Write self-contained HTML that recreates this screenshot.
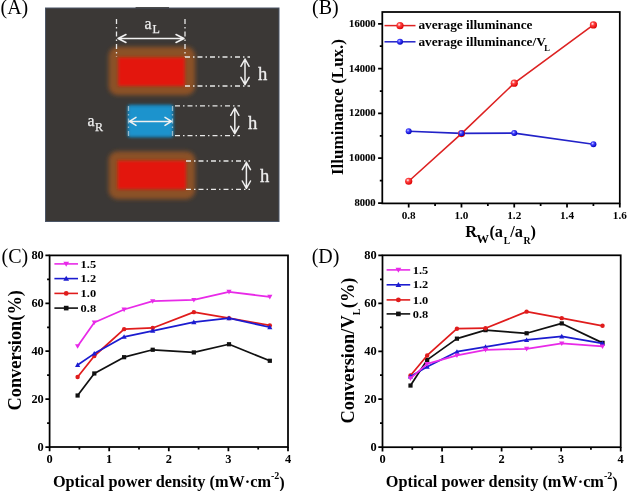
<!DOCTYPE html>
<html><head><meta charset="utf-8"><style>
body{margin:0;background:#fff;width:627px;height:491px;overflow:hidden}
svg{display:block;filter:blur(0.3px)}
text{font-family:"Liberation Serif",serif;fill:#000}
.lab{font-size:20px}
.wa{font-size:15.8px;fill:#eeeeee;stroke:#eeeeee;stroke-width:0.25px}
.ws{font-size:12px;fill:#eeeeee;stroke:#eeeeee;stroke-width:0.25px}
.wh{font-size:18.6px;fill:#eeeeee;stroke:#eeeeee;stroke-width:0.3px}
.tb{font-size:10.6px;font-weight:bold;stroke:#000;stroke-width:0.12px}
.tbx{font-size:11.2px;font-weight:bold}
.tc{font-size:12.4px;font-weight:bold}
.lg{font-size:13.3px;font-weight:bold}
.lgs{font-size:8.5px;font-weight:bold}
.lc{font-size:10.7px;font-weight:bold}
.yl{font-size:17px;font-weight:bold}
.ylc{font-size:18.4px;font-weight:bold}
.ylcs{font-size:9.8px}
.xl{font-size:16.3px;font-weight:bold}
.xls{font-size:11px;font-weight:bold}
.sup{font-size:10px}
</style></head>
<body><svg width="627" height="491" viewBox="0 0 627 491"><defs>
<filter id="bl" x="-30%" y="-30%" width="160%" height="160%"><feGaussianBlur stdDeviation="1.8"/></filter>
<filter id="bl3" x="-10%" y="-10%" width="120%" height="120%"><feGaussianBlur stdDeviation="1.5"/></filter>
<filter id="bl4" x="-30%" y="-30%" width="160%" height="160%"><feGaussianBlur stdDeviation="2.2"/></filter>
<filter id="bl2" x="-10%" y="-10%" width="120%" height="120%"><feGaussianBlur stdDeviation="0.6"/></filter>
<radialGradient id="rg" cx="0.38" cy="0.35" r="0.65"><stop offset="0" stop-color="#fff"/><stop offset="0.35" stop-color="#f44"/><stop offset="1" stop-color="#d00"/></radialGradient>
<radialGradient id="bg" cx="0.38" cy="0.35" r="0.65"><stop offset="0" stop-color="#ccf"/><stop offset="0.35" stop-color="#44f"/><stop offset="1" stop-color="#00b"/></radialGradient>
</defs>
<text x="0.5" y="14.4" class="lab">(A)</text>
<rect x="45.5" y="8" width="233.5" height="213.5" fill="#3b3836" stroke="#4b5566" stroke-width="1"/>
<path d="M135.6 7.7H169" stroke="#363636" stroke-width="1"/>
<rect x="108.6" y="46.8" width="86.6" height="48.400000000000006" rx="9" fill="#8b5126" filter="url(#bl4)"/>
<rect x="108.6" y="151.2" width="86.6" height="48.0" rx="9" fill="#8b5126" filter="url(#bl4)"/>
<rect x="118.2" y="57.4" width="66.6" height="28.6" fill="#e3140b" filter="url(#bl3)"/>
<rect x="117.5" y="160.5" width="68.5" height="28.7" fill="#e3140b" filter="url(#bl3)"/>
<rect x="127.5" y="104.5" width="46" height="33" rx="3" fill="#1f6f9a" filter="url(#bl)"/>
<rect x="128.6" y="106.1" width="43.6" height="30" fill="#1a93cd" filter="url(#bl3)"/>
<line x1="116.5" y1="19" x2="116.5" y2="57" stroke="#e8e8e8" stroke-width="1.3" stroke-dasharray="5 3 1.5 3" fill="none"/>
<line x1="185" y1="19" x2="185" y2="57" stroke="#e8e8e8" stroke-width="1.3" stroke-dasharray="5 3 1.5 3" fill="none"/>
<line x1="185" y1="57" x2="250" y2="57" stroke="#e8e8e8" stroke-width="1.3" stroke-dasharray="5 3 1.5 3" fill="none"/>
<line x1="185" y1="86" x2="250" y2="86" stroke="#e8e8e8" stroke-width="1.3" stroke-dasharray="5 3 1.5 3" fill="none"/>
<line x1="175" y1="105.9" x2="240" y2="105.9" stroke="#e8e8e8" stroke-width="1.3" stroke-dasharray="5 3 1.5 3" fill="none"/>
<line x1="175" y1="135.6" x2="240" y2="135.6" stroke="#e8e8e8" stroke-width="1.3" stroke-dasharray="5 3 1.5 3" fill="none"/>
<line x1="186" y1="161" x2="250" y2="161" stroke="#e8e8e8" stroke-width="1.3" stroke-dasharray="5 3 1.5 3" fill="none"/>
<line x1="186" y1="189.3" x2="250" y2="189.3" stroke="#e8e8e8" stroke-width="1.3" stroke-dasharray="5 3 1.5 3" fill="none"/>
<line x1="128.5" y1="106" x2="128.5" y2="136" stroke="#e8e8e8" stroke-width="1.3" stroke-dasharray="5 3 1.5 3" fill="none" opacity="0.6"/>
<line x1="172.5" y1="106" x2="172.5" y2="136" stroke="#e8e8e8" stroke-width="1.3" stroke-dasharray="5 3 1.5 3" fill="none" opacity="0.6"/>
<path d="M118 38.5H184M126 34.5L118 38.5L126 42.5M176 34.5L184 38.5L176 42.5" stroke="#f0f0f0" stroke-width="1.5" fill="none" stroke-linecap="round" stroke-linejoin="round"/>
<path d="M129.5 121.4H171.5M136.0 117.4L129.5 121.4L136.0 125.4M165.0 117.4L171.5 121.4L165.0 125.4" stroke="#f0f0f0" stroke-width="1.5" fill="none" stroke-linecap="round" stroke-linejoin="round"/>
<path d="M245 59V84.6M240.9 66.3L245 59L249.1 66.3M240.9 77.3L245 84.6L249.1 77.3" stroke="#f0f0f0" stroke-width="1.5" fill="none" stroke-linecap="round" stroke-linejoin="round"/>
<path d="M234.8 108V133.6M230.70000000000002 115.3L234.8 108L238.9 115.3M230.70000000000002 126.3L234.8 133.6L238.9 126.3" stroke="#f0f0f0" stroke-width="1.5" fill="none" stroke-linecap="round" stroke-linejoin="round"/>
<path d="M246.4 162.3V188.3M242.3 169.60000000000002L246.4 162.3L250.5 169.60000000000002M242.3 181.0L246.4 188.3L250.5 181.0" stroke="#f0f0f0" stroke-width="1.5" fill="none" stroke-linecap="round" stroke-linejoin="round"/>
<text x="144.5" y="28.5" class="wa">a</text><text x="152.5" y="33" class="ws">L</text>
<text x="87.5" y="125.8" class="wa">a</text><text x="95" y="130.8" class="ws">R</text>
<text x="258" y="79.5" class="wh">h</text>
<text x="248.1" y="128.5" class="wh">h</text>
<text x="260" y="182.1" class="wh">h</text>
<text x="312" y="14" class="lab">(B)</text>
<rect x="382.3" y="12" width="237.5" height="191.4" stroke="#000" stroke-width="1.75" fill="none"/>
<text x="375.6" y="206" class="tb" text-anchor="end">8000</text>
<text x="375.6" y="161.2" class="tb" text-anchor="end">10000</text>
<text x="375.6" y="116.4" class="tb" text-anchor="end">12000</text>
<text x="375.6" y="71.6" class="tb" text-anchor="end">14000</text>
<text x="375.6" y="26.8" class="tb" text-anchor="end">16000</text>
<text x="408.69" y="219" class="tbx" text-anchor="middle">0.8</text>
<text x="461.47" y="219" class="tbx" text-anchor="middle">1.0</text>
<text x="514.24" y="219" class="tbx" text-anchor="middle">1.2</text>
<text x="567.02" y="219" class="tbx" text-anchor="middle">1.4</text>
<text x="619.8" y="219" class="tbx" text-anchor="middle">1.6</text>
<path d="M382.3 203H378.1M382.3 158.2H378.1M382.3 113.4H378.1M382.3 68.6H378.1M382.3 23.8H378.1M382.3 180.6H379.8M382.3 135.8H379.8M382.3 91H379.8M382.3 46.2H379.8M408.69 203.4V207.6M461.47 203.4V207.6M514.24 203.4V207.6M567.02 203.4V207.6M619.8 203.4V207.6M435.08 203.4V205.9M487.86 203.4V205.9M540.63 203.4V205.9M593.41 203.4V205.9" stroke="#000" stroke-width="1.75" fill="none"/>
<polyline points="408.69,181.27 461.47,133.56 514.24,83.16 593.41,24.92" stroke="#dd2222" stroke-width="1.6" fill="none"/>
<polyline points="408.69,131.32 461.47,133.34 514.24,133.11 593.41,144.31" stroke="#2222c8" stroke-width="1.6" fill="none"/>
<circle cx="408.69" cy="181.27" r="3.6" fill="url(#rg)"/>
<circle cx="461.47" cy="133.56" r="3.6" fill="url(#rg)"/>
<circle cx="514.24" cy="83.16" r="3.6" fill="url(#rg)"/>
<circle cx="593.41" cy="24.92" r="3.6" fill="url(#rg)"/>
<circle cx="408.69" cy="131.32" r="3" fill="url(#bg)"/>
<circle cx="461.47" cy="133.34" r="3" fill="url(#bg)"/>
<circle cx="514.24" cy="133.11" r="3" fill="url(#bg)"/>
<circle cx="593.41" cy="144.31" r="3" fill="url(#bg)"/>
<path d="M384.5 25.6H415.5" stroke="#dd2222" stroke-width="1.5"/><circle cx="400" cy="25.7" r="3.6" fill="url(#rg)"/>
<path d="M384.5 41.8H415.5" stroke="#2222c8" stroke-width="1.5"/><circle cx="400" cy="41.8" r="3" fill="url(#bg)"/>
<text x="418.4" y="29.1" class="lg">average illuminance</text>
<text x="418.4" y="45.5" class="lg">average illuminance/V</text><text x="544.3" y="51.3" class="lgs">L</text>
<text transform="translate(343,175) rotate(-90)" class="yl">Illuminance (Lux.)</text>
<text x="465.2" y="237.3" class="xl">R</text><text x="476.6" y="243.1" class="xls" style="font-size:12.5px">W</text><text x="489.4" y="237.3" class="xl">(a</text><text x="503.8" y="243.5" class="xls" style="font-size:9.5px">L</text><text x="510.2" y="237.3" class="xl">/a</text><text x="523.5" y="243.5" class="xls" style="font-size:9.8px">R</text><text x="530.6" y="237.3" class="xl">)</text>
<text x="1.6" y="262.6" class="lab">(C)</text>
<rect x="49.6" y="255.4" width="238.4" height="191.6" stroke="#000" stroke-width="1.75" fill="none"/>
<text x="43.8" y="450.6" class="tc" text-anchor="end">0</text>
<text x="43.8" y="402.7" class="tc" text-anchor="end">20</text>
<text x="43.8" y="354.8" class="tc" text-anchor="end">40</text>
<text x="43.8" y="306.9" class="tc" text-anchor="end">60</text>
<text x="43.8" y="259" class="tc" text-anchor="end">80</text>
<text x="49.6" y="462.5" class="tc" text-anchor="middle">0</text>
<text x="109.2" y="462.5" class="tc" text-anchor="middle">1</text>
<text x="168.8" y="462.5" class="tc" text-anchor="middle">2</text>
<text x="228.4" y="462.5" class="tc" text-anchor="middle">3</text>
<text x="288" y="462.5" class="tc" text-anchor="middle">4</text>
<path d="M49.6 447H45.4M49.6 399.1H45.4M49.6 351.2H45.4M49.6 303.3H45.4M49.6 255.4H45.4M49.6 423.05H47.1M49.6 375.15H47.1M49.6 327.25H47.1M49.6 279.35H47.1M49.6 447V451.2M109.2 447V451.2M168.8 447V451.2M228.4 447V451.2M288 447V451.2M79.4 447V449.5M139 447V449.5M198.6 447V449.5M258.2 447V449.5" stroke="#000" stroke-width="1.75" fill="none"/>
<polyline points="77.61,395.51 94.3,373.47 124.1,357.19 152.71,349.76 193.83,352.4 229,344.25 269.82,360.78" stroke="#111111" stroke-width="1.75" fill="none" stroke-linejoin="round"/>
<rect x="75.51" y="393.41" width="4.2" height="4.2" fill="#111111"/>
<rect x="92.2" y="371.37" width="4.2" height="4.2" fill="#111111"/>
<rect x="122" y="355.09" width="4.2" height="4.2" fill="#111111"/>
<rect x="150.61" y="347.66" width="4.2" height="4.2" fill="#111111"/>
<rect x="191.73" y="350.3" width="4.2" height="4.2" fill="#111111"/>
<rect x="226.9" y="342.15" width="4.2" height="4.2" fill="#111111"/>
<rect x="267.72" y="358.68" width="4.2" height="4.2" fill="#111111"/>
<polyline points="77.61,377.07 94.3,355.99 124.1,329.17 152.71,327.97 193.83,312.16 229,318.15 269.82,325.45" stroke="#e01c1c" stroke-width="1.75" fill="none" stroke-linejoin="round"/>
<circle cx="77.61" cy="377.07" r="2.2" fill="#e01c1c"/>
<circle cx="94.3" cy="355.99" r="2.2" fill="#e01c1c"/>
<circle cx="124.1" cy="329.17" r="2.2" fill="#e01c1c"/>
<circle cx="152.71" cy="327.97" r="2.2" fill="#e01c1c"/>
<circle cx="193.83" cy="312.16" r="2.2" fill="#e01c1c"/>
<circle cx="229" cy="318.15" r="2.2" fill="#e01c1c"/>
<circle cx="269.82" cy="325.45" r="2.2" fill="#e01c1c"/>
<polyline points="77.61,364.97 94.3,353.6 124.1,336.83 152.71,330.84 193.83,322.22 229,318.15 269.82,327.25" stroke="#1c1cd0" stroke-width="1.75" fill="none" stroke-linejoin="round"/>
<path d="M75.01 366.97H80.21L77.61 362.37Z" fill="#1c1cd0"/>
<path d="M91.7 355.6H96.9L94.3 351Z" fill="#1c1cd0"/>
<path d="M121.5 338.83H126.7L124.1 334.23Z" fill="#1c1cd0"/>
<path d="M150.11 332.84H155.31L152.71 328.24Z" fill="#1c1cd0"/>
<path d="M191.23 324.22H196.43L193.83 319.62Z" fill="#1c1cd0"/>
<path d="M226.4 320.15H231.6L229 315.55Z" fill="#1c1cd0"/>
<path d="M267.22 329.25H272.42L269.82 324.65Z" fill="#1c1cd0"/>
<polyline points="77.61,346.17 94.3,322.46 124.1,309.53 152.71,301.14 193.83,299.95 229,291.8 269.82,296.83" stroke="#e82ae8" stroke-width="1.75" fill="none" stroke-linejoin="round"/>
<path d="M75.01 344.17H80.21L77.61 348.77Z" fill="#e82ae8"/>
<path d="M91.7 320.46H96.9L94.3 325.06Z" fill="#e82ae8"/>
<path d="M121.5 307.53H126.7L124.1 312.13Z" fill="#e82ae8"/>
<path d="M150.11 299.14H155.31L152.71 303.74Z" fill="#e82ae8"/>
<path d="M191.23 297.95H196.43L193.83 302.55Z" fill="#e82ae8"/>
<path d="M226.4 289.8H231.6L229 294.4Z" fill="#e82ae8"/>
<path d="M267.22 294.83H272.42L269.82 299.43Z" fill="#e82ae8"/>
<path d="M54.4 263.9H78" stroke="#e82ae8" stroke-width="1.6"/>
<path d="M63.34 261.7H69.06L66.2 266.76Z" fill="#e82ae8"/>
<text transform="translate(80.6,267.5) scale(1.16,1)" class="lc">1.5</text>
<path d="M54.4 278.6H78" stroke="#1c1cd0" stroke-width="1.6"/>
<path d="M63.34 280.8H69.06L66.2 275.74Z" fill="#1c1cd0"/>
<text transform="translate(80.6,282.2) scale(1.16,1)" class="lc">1.2</text>
<path d="M54.4 293.4H78" stroke="#e01c1c" stroke-width="1.6"/>
<circle cx="66.2" cy="293.4" r="2.42" fill="#e01c1c"/>
<text transform="translate(80.6,297) scale(1.16,1)" class="lc">1.0</text>
<path d="M54.4 308.1H78" stroke="#111111" stroke-width="1.6"/>
<rect x="63.89" y="305.79" width="4.62" height="4.62" fill="#111111"/>
<text transform="translate(80.6,311.7) scale(1.16,1)" class="lc">0.8</text>
<text transform="translate(20.8,410.6) rotate(-90)" class="ylc">Conversion(%)</text>
<text x="52.9" y="486.7" class="xl">Optical power density (mW·cm<tspan class="sup" dy="-7.3">-2</tspan><tspan dy="8.3">)</tspan></text>
<text x="311.7" y="263.2" class="lab">(D)</text>
<rect x="382.5" y="255.3" width="238.2" height="191.9" stroke="#000" stroke-width="1.75" fill="none"/>
<text x="376.7" y="450.8" class="tc" text-anchor="end">0</text>
<text x="376.7" y="402.83" class="tc" text-anchor="end">20</text>
<text x="376.7" y="354.85" class="tc" text-anchor="end">40</text>
<text x="376.7" y="306.88" class="tc" text-anchor="end">60</text>
<text x="376.7" y="258.9" class="tc" text-anchor="end">80</text>
<text x="382.5" y="462.5" class="tc" text-anchor="middle">0</text>
<text x="442.05" y="462.5" class="tc" text-anchor="middle">1</text>
<text x="501.6" y="462.5" class="tc" text-anchor="middle">2</text>
<text x="561.15" y="462.5" class="tc" text-anchor="middle">3</text>
<text x="620.7" y="462.5" class="tc" text-anchor="middle">4</text>
<path d="M382.5 447.2H378.3M382.5 399.23H378.3M382.5 351.25H378.3M382.5 303.27H378.3M382.5 255.3H378.3M382.5 423.21H380M382.5 375.24H380M382.5 327.26H380M382.5 279.29H380M382.5 447.2V451.4M442.05 447.2V451.4M501.6 447.2V451.4M561.15 447.2V451.4M620.7 447.2V451.4M412.27 447.2V449.7M471.83 447.2V449.7M531.38 447.2V449.7M590.93 447.2V449.7" stroke="#000" stroke-width="1.75" fill="none"/>
<polyline points="410.49,385.55 427.16,359.89 456.94,338.66 485.52,330.14 526.61,333.26 561.75,323.42 602.54,342.85" stroke="#111111" stroke-width="1.75" fill="none" stroke-linejoin="round"/>
<rect x="408.39" y="383.45" width="4.2" height="4.2" fill="#111111"/>
<rect x="425.06" y="357.79" width="4.2" height="4.2" fill="#111111"/>
<rect x="454.84" y="336.56" width="4.2" height="4.2" fill="#111111"/>
<rect x="483.42" y="328.04" width="4.2" height="4.2" fill="#111111"/>
<rect x="524.51" y="331.16" width="4.2" height="4.2" fill="#111111"/>
<rect x="559.65" y="321.32" width="4.2" height="4.2" fill="#111111"/>
<rect x="600.44" y="340.75" width="4.2" height="4.2" fill="#111111"/>
<polyline points="410.49,375.48 427.16,355.45 456.94,328.7 485.52,328.22 526.61,311.67 561.75,318.15 602.54,325.82" stroke="#e01c1c" stroke-width="1.75" fill="none" stroke-linejoin="round"/>
<circle cx="410.49" cy="375.48" r="2.2" fill="#e01c1c"/>
<circle cx="427.16" cy="355.45" r="2.2" fill="#e01c1c"/>
<circle cx="456.94" cy="328.7" r="2.2" fill="#e01c1c"/>
<circle cx="485.52" cy="328.22" r="2.2" fill="#e01c1c"/>
<circle cx="526.61" cy="311.67" r="2.2" fill="#e01c1c"/>
<circle cx="561.75" cy="318.15" r="2.2" fill="#e01c1c"/>
<circle cx="602.54" cy="325.82" r="2.2" fill="#e01c1c"/>
<polyline points="410.49,376.44 427.16,366.84 456.94,351.73 485.52,346.93 526.61,339.98 561.75,336.38 602.54,343.45" stroke="#1c1cd0" stroke-width="1.75" fill="none" stroke-linejoin="round"/>
<path d="M407.89 378.44H413.09L410.49 373.84Z" fill="#1c1cd0"/>
<path d="M424.56 368.84H429.76L427.16 364.24Z" fill="#1c1cd0"/>
<path d="M454.34 353.73H459.54L456.94 349.13Z" fill="#1c1cd0"/>
<path d="M482.92 348.93H488.12L485.52 344.33Z" fill="#1c1cd0"/>
<path d="M524.01 341.98H529.21L526.61 337.38Z" fill="#1c1cd0"/>
<path d="M559.15 338.38H564.35L561.75 333.78Z" fill="#1c1cd0"/>
<path d="M599.94 345.45H605.14L602.54 340.85Z" fill="#1c1cd0"/>
<polyline points="410.49,378.36 427.16,363.96 456.94,355.45 485.52,349.81 526.61,348.85 561.75,343.45 602.54,346.45" stroke="#e82ae8" stroke-width="1.75" fill="none" stroke-linejoin="round"/>
<path d="M407.89 376.36H413.09L410.49 380.96Z" fill="#e82ae8"/>
<path d="M424.56 361.96H429.76L427.16 366.56Z" fill="#e82ae8"/>
<path d="M454.34 353.45H459.54L456.94 358.05Z" fill="#e82ae8"/>
<path d="M482.92 347.81H488.12L485.52 352.41Z" fill="#e82ae8"/>
<path d="M524.01 346.85H529.21L526.61 351.45Z" fill="#e82ae8"/>
<path d="M559.15 341.45H564.35L561.75 346.05Z" fill="#e82ae8"/>
<path d="M599.94 344.45H605.14L602.54 349.05Z" fill="#e82ae8"/>
<path d="M386.6 269.9H410.2" stroke="#e82ae8" stroke-width="1.6"/>
<path d="M395.54 267.7H401.26L398.4 272.76Z" fill="#e82ae8"/>
<text transform="translate(412.8,273.5) scale(1.16,1)" class="lc">1.5</text>
<path d="M386.6 284.8H410.2" stroke="#1c1cd0" stroke-width="1.6"/>
<path d="M395.54 287H401.26L398.4 281.94Z" fill="#1c1cd0"/>
<text transform="translate(412.8,288.4) scale(1.16,1)" class="lc">1.2</text>
<path d="M386.6 299.9H410.2" stroke="#e01c1c" stroke-width="1.6"/>
<circle cx="398.4" cy="299.9" r="2.42" fill="#e01c1c"/>
<text transform="translate(412.8,303.5) scale(1.16,1)" class="lc">1.0</text>
<path d="M386.6 313.9H410.2" stroke="#111111" stroke-width="1.6"/>
<rect x="396.09" y="311.59" width="4.62" height="4.62" fill="#111111"/>
<text transform="translate(412.8,317.5) scale(1.16,1)" class="lc">0.8</text>
<text transform="translate(353.6,423.6) rotate(-90)" class="ylc">Conversion/V<tspan class="ylcs" dy="6.5">L</tspan><tspan dy="-6.5" dx="0.5">(%)</tspan></text>
<text x="385.8" y="486.7" class="xl">Optical power density (mW·cm<tspan class="sup" dy="-7.3">-2</tspan><tspan dy="8.3">)</tspan></text>
</svg></body></html>
